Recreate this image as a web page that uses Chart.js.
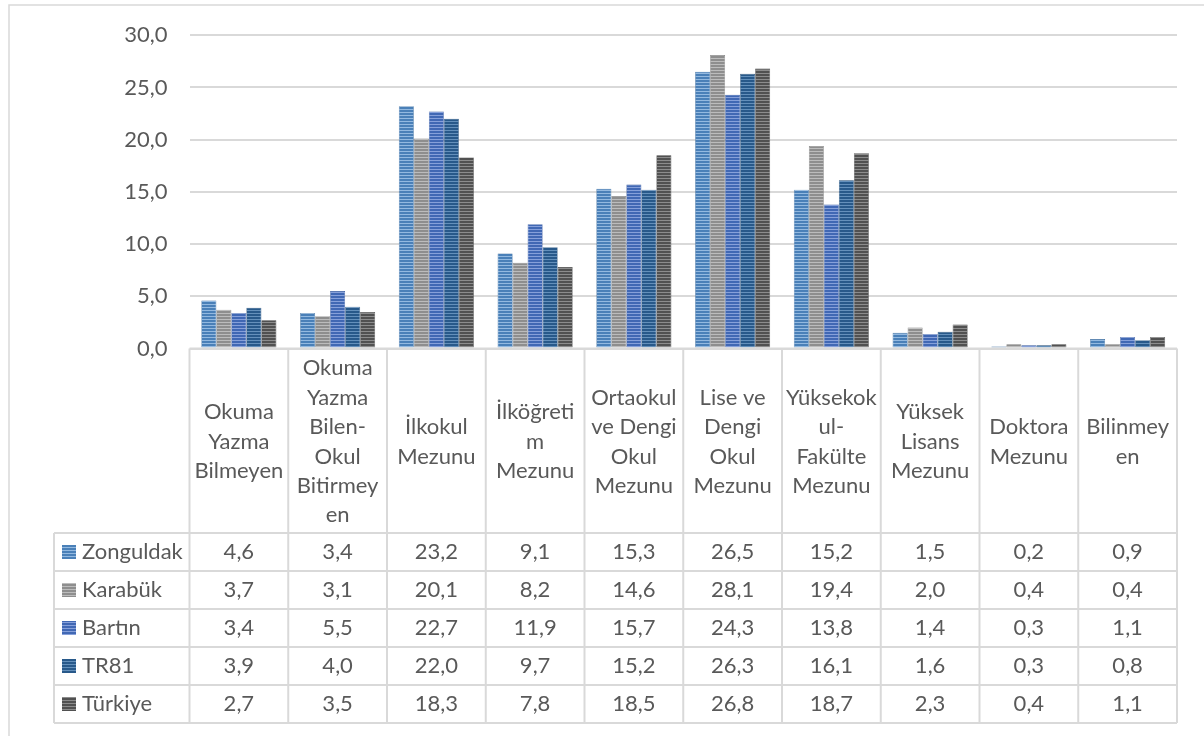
<!DOCTYPE html>
<html>
<head>
<meta charset="utf-8">
<script src="https://cdn.jsdelivr.net/npm/chart.js@4.4.1/dist/chart.umd.min.js"></script>
<style>
  body { margin: 0; background: #fff; }
  canvas { display: block; }
</style>
</head>
<body>
<canvas id="egitimChart" width="1204" height="736"></canvas>
<script>
// Eğitim durumu (%) - kategoriler ve seriler
const kategoriler = [
    ['Okuma', 'Yazma', 'Bilmeyen'],
    ['Okuma', 'Yazma', 'Bilen-', 'Okul', 'Bitirmey', 'en'],
    ['İlkokul', 'Mezunu'],
    ['İlköğreti', 'm', 'Mezunu'],
    ['Ortaokul', 've Dengi', 'Okul', 'Mezunu'],
    ['Lise ve', 'Dengi', 'Okul', 'Mezunu'],
    ['Yüksekok', 'ul-', 'Fakülte', 'Mezunu'],
    ['Yüksek', 'Lisans', 'Mezunu'],
    ['Doktora', 'Mezunu'],
    ['Bilinmey', 'en']
];

const seriAdlari = ['Zonguldak', 'Karabük', 'Bartın', 'TR81', 'Türkiye'];

const zonguldak = [4.6, 3.4, 23.2, 9.1, 15.3, 26.5, 15.2, 1.5, 0.2, 0.9];
const karabuk   = [3.7, 3.1, 20.1, 8.2, 14.6, 28.1, 19.4, 2.0, 0.4, 0.4];
const bartin    = [3.4, 5.5, 22.7, 11.9, 15.7, 24.3, 13.8, 1.4, 0.3, 1.1];
const tr81      = [3.9, 4.0, 22.0, 9.7, 15.2, 26.3, 16.1, 1.6, 0.3, 0.8];
const turkiye   = [2.7, 3.5, 18.3, 7.8, 18.5, 26.8, 18.7, 2.3, 0.4, 1.1];

const yEksenMax = 30;
const yEksenAdim = 5;

// renkler: [koyu, açık çizgi, kenar]
const renkler = [
    ['#4a80b8', '#93b9e0', '#3a6a9a'],
    ['#8e8e8e', '#bcbcbc', '#7a7a7a'],
    ['#4168b4', '#86a0da', '#35579a'],
    ['#28598a', '#6490bb', '#1f4870'],
    ['#515151', '#8c8c8c', '#404040']
];

const FONT = 'Lato, "Open Sans", sans-serif';
const YAZI_RENK = '#595959';
const CIZGI_RENK = '#d9d9d9';

function cizgiliDesen(koyu, acik) {
    const c = document.createElement('canvas');
    c.width = 1;
    c.height = 3;
    const x = c.getContext('2d');
    x.fillStyle = koyu;
    x.fillRect(0, 0, 1, 3);
    x.fillStyle = acik;
    x.fillRect(0, 1, 1, 1);
    return document.getElementById('egitimChart').getContext('2d').createPattern(c, 'repeat');
}

const desenler = renkler.map(r => cizgiliDesen(r[0], r[1]));

function virgullu(v) {
    return v.toFixed(1).replace('.', ',');
}

const seriler = [zonguldak, karabuk, bartin, tr81, turkiye];

// tablo + çerçeve
const veriTablosu = {
    id: 'veriTablosu',
    afterDraw(chart) {
        const ctx = chart.ctx;
        const alan = chart.chartArea;
        const x = chart.scales.x;
        const kolon = (alan.right - alan.left) / kategoriler.length;
        const ust = alan.bottom;
        const baslikAlt = 533;
        const satir = 38;
        const solKenar = 54;
        const tabloAlt = baslikAlt + satir * seriler.length;

        ctx.save();
        // dış çerçeve
        ctx.strokeStyle = CIZGI_RENK;
        ctx.lineWidth = 1.5;
        ctx.strokeRect(9, 5, 1300, 900);

        // tablo çizgileri
        ctx.lineWidth = 2;
        ctx.beginPath();
        ctx.moveTo(alan.left, ust);
        ctx.lineTo(alan.right, ust);
        for (let i = 0; i <= seriler.length; i++) {
            const yy = baslikAlt + i * satir;
            ctx.moveTo(solKenar, yy);
            ctx.lineTo(alan.right, yy);
        }
        for (let i = 0; i <= kategoriler.length; i++) {
            const xx = alan.left + i * kolon;
            ctx.moveTo(xx, ust);
            ctx.lineTo(xx, tabloAlt);
        }
        ctx.moveTo(solKenar, baslikAlt);
        ctx.lineTo(solKenar, tabloAlt);
        ctx.stroke();

        // başlık hücreleri
        ctx.fillStyle = YAZI_RENK;
        ctx.font = '22px ' + FONT;
        ctx.textAlign = 'center';
        ctx.textBaseline = 'middle';
        const satirAra = 29.4;
        const orta = (ust + baslikAlt) / 2 + 1;
        kategoriler.forEach((satirlar, i) => {
            const cx = x.getPixelForValue(i);
            const y0 = orta - (satirlar.length - 1) * satirAra / 2;
            satirlar.forEach((s, j) => ctx.fillText(s, cx, y0 + j * satirAra));
        });

        // seri satırları
        seriler.forEach((degerler, k) => {
            const cy = baslikAlt + k * satir + satir / 2;
            ctx.fillStyle = desenler[k];
            ctx.fillRect(62, cy - 7, 14, 14);
            ctx.fillStyle = YAZI_RENK;
            ctx.textAlign = 'left';
            ctx.fillText(seriAdlari[k], 82, cy);
            ctx.textAlign = 'center';
            degerler.forEach((v, i) => {
                ctx.fillText(virgullu(v), x.getPixelForValue(i), cy);
            });
        });
        ctx.restore();
    }
};

const ctx = document.getElementById('egitimChart').getContext('2d');
const egitimChart = new Chart(ctx, {
    type: 'bar',
    data: {
        labels: kategoriler,
        datasets: seriler.map((d, k) => ({
            label: seriAdlari[k],
            data: d,
            backgroundColor: desenler[k],
            borderColor: renkler[k][2],
            borderWidth: 0.6
        }))
    },
    options: {
        responsive: false,
        animation: false,
        events: [],
        layout: {
            padding: { top: 34, right: 27, bottom: 387.5, left: 0 }
        },
        datasets: {
            bar: { categoryPercentage: 0.76, barPercentage: 1 }
        },
        plugins: {
            legend: { display: false },
            tooltip: { enabled: false }
        },
        scales: {
            x: {
                display: false
            },
            y: {
                min: 0,
                max: yEksenMax,
                afterFit(scale) { scale.width = 189.5; },
                border: { display: false },
                grid: {
                    color: CIZGI_RENK,
                    lineWidth: 2,
                    drawTicks: false
                },
                ticks: {
                    stepSize: yEksenAdim,
                    padding: 22,
                    color: YAZI_RENK,
                    font: { family: FONT, size: 22 },
                    callback: v => virgullu(v)
                }
            }
        }
    },
    plugins: [veriTablosu]
});
</script>
</body>
</html>
